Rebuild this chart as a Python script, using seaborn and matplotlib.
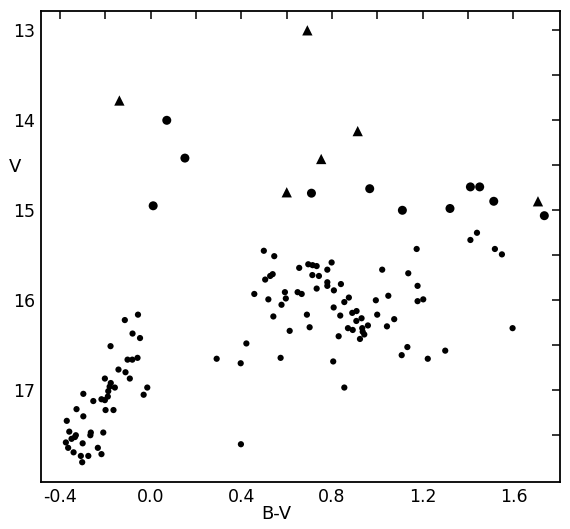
import numpy as np
import pandas as pd
import matplotlib.pyplot as plt
import seaborn as sns
from matplotlib.ticker import FixedLocator

# small dots (B-V, V)
dot_bv = [-0.056, -0.114, -0.080, -0.047, -0.177, -0.102, -0.081, -0.058, -0.142, -0.111,
          -0.092, -0.202, -0.176, -0.158, -0.181, -0.187, -0.015, -0.031, -0.297, -0.189,
          -0.217, -0.202, -0.253, -0.327, -0.199, -0.164, -0.297, -0.370, -0.359, -0.264,
          -0.266, -0.209, -0.334, -0.349, -0.330, -0.374, -0.300, -0.364, -0.340, -0.308,
          -0.275, -0.302, -0.233, -0.217,
          0.499, 0.545, 0.655, 0.695, 0.714, 0.732, 0.798, 0.779, 0.713, 0.742,
          0.538, 0.527, 0.505, 0.779, 0.779, 0.839, 0.732, 0.808, 0.457, 0.592,
          0.648, 0.666, 0.519, 0.596, 0.874, 0.854, 0.577, 0.807, 0.889, 0.908,
          0.689, 0.541, 0.836, 0.907, 0.930, 0.701, 0.870, 0.891, 0.958, 0.933,
          0.935, 0.942, 0.923, 0.613, 0.829, 0.422, 0.573, 0.397, 0.805, 0.854,
          1.021, 1.136, 0.993, 1.048, 0.999, 1.074, 1.042, 1.132, 1.107, 0.291,
          0.398,
          1.410, 1.439, 1.518, 1.549, 1.173, 1.177, 1.177, 1.202, 1.596, 1.222,
          1.299]
dot_v = [16.16, 16.22, 16.37, 16.42, 16.51, 16.66, 16.66, 16.64, 16.77, 16.80,
         16.87, 16.87, 16.92, 16.97, 16.96, 17.01, 16.97, 17.05, 17.04, 17.07,
         17.10, 17.11, 17.12, 17.21, 17.22, 17.22, 17.29, 17.34, 17.46, 17.47,
         17.50, 17.47, 17.52, 17.54, 17.50, 17.58, 17.59, 17.64, 17.69, 17.73,
         17.73, 17.80, 17.64, 17.71,
         15.45, 15.51, 15.64, 15.60, 15.61, 15.62, 15.58, 15.66, 15.72, 15.73,
         15.71, 15.73, 15.77, 15.80, 15.84, 15.82, 15.87, 15.89, 15.93, 15.91,
         15.91, 15.93, 15.99, 15.98, 15.97, 16.02, 16.05, 16.08, 16.14, 16.12,
         16.16, 16.18, 16.17, 16.23, 16.20, 16.30, 16.31, 16.33, 16.28, 16.31,
         16.35, 16.38, 16.43, 16.34, 16.40, 16.48, 16.64, 16.70, 16.68, 16.97,
         15.66, 15.70, 16.00, 15.95, 16.16, 16.21, 16.29, 16.52, 16.61, 16.65,
         17.60,
         15.33, 15.25, 15.43, 15.49, 15.43, 15.84, 16.01, 15.99, 16.31, 16.65,
         16.56]

# large filled circles
circle_bv = [0.071, 0.151, 0.011, 0.709, 0.966, 1.110, 1.320, 1.410, 1.451, 1.513, 1.736]
circle_v = [14.00, 14.42, 14.95, 14.81, 14.76, 15.00, 14.98, 14.74, 14.74, 14.90, 15.06]

# filled triangles
tri_bv = [0.691, -0.138, 0.913, 0.752, 0.600, 1.708]
tri_v = [13.00, 13.78, 14.12, 14.43, 14.80, 14.90]

dots = pd.DataFrame({"bv": dot_bv, "v": dot_v})
circles = pd.DataFrame({"bv": circle_bv, "v": circle_v})
tris = pd.DataFrame({"bv": tri_bv, "v": tri_v})

sns.set_style("white")
plt.rcParams["font.family"] = ["DejaVu Sans"]
plt.rcParams["text.color"] = "black"
plt.rcParams["axes.labelcolor"] = "black"
plt.rcParams["xtick.color"] = "black"
plt.rcParams["ytick.color"] = "black"

fig = plt.figure(figsize=(5.70, 5.29), dpi=100)
ax = fig.add_axes([0.0714, 0.0888, 0.911, 0.8913])

sns.scatterplot(data=dots, x="bv", y="v", marker="o", s=20, color="black",
                edgecolor="none", ax=ax)
sns.scatterplot(data=circles, x="bv", y="v", marker="o", s=42, color="black",
                edgecolor="none", ax=ax)
sns.scatterplot(data=tris, x="bv", y="v", marker="^", s=55, color="black",
                edgecolor="none", ax=ax)

ax.set_xlim(-0.485, 1.805)
ax.set_ylim(18.02, 12.78)

ax.xaxis.set_major_locator(FixedLocator([-0.4, 0.0, 0.4, 0.8, 1.2, 1.6]))
ax.xaxis.set_minor_locator(FixedLocator([-0.2, 0.2, 0.6, 1.0, 1.4]))
ax.set_xticklabels(["-0.4", "0.0", "0.4", "0.8", "1.2", "1.6"])
ax.yaxis.set_major_locator(FixedLocator([13, 14, 15, 16, 17]))
ax.yaxis.set_minor_locator(FixedLocator([13.5, 14.5, 15.5, 16.5, 17.5]))
ax.set_yticklabels(["13", "14", "15", "16", "17"])

ax.tick_params(which="both", direction="in", top=True, right=True,
               length=6, width=1.1, color="black")
ax.tick_params(axis="x", pad=4, labelsize=12.5)
ax.tick_params(axis="y", pad=4, labelsize=12.5)

for sp in ax.spines.values():
    sp.set_linewidth(1.3)
    sp.set_color("black")

ax.set_xlabel("B-V", fontsize=13, va="center")
ax.xaxis.set_label_coords(0.453, -0.068)
ax.set_ylabel("V", fontsize=13, rotation=0, va="center", ha="center")
ax.yaxis.set_label_coords(-0.05, 0.668)

fig.savefig("out.png", dpi=100)
